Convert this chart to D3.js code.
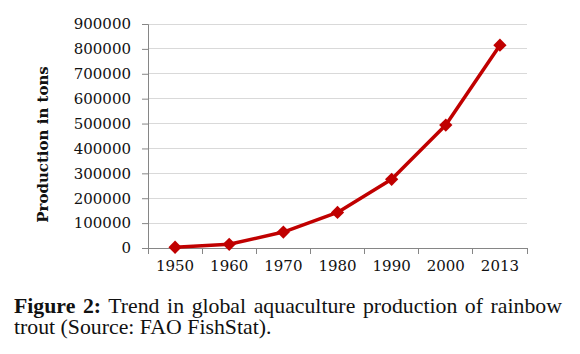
<!DOCTYPE html>
<html><head><meta charset="utf-8">
<script src="https://cdn.jsdelivr.net/npm/d3@7"></script>
<style>body{margin:0;background:#fff}svg{display:block}</style>
</head><body>
<svg id="c" width="580" height="354"></svg>
<script>
const years = ["1950","1960","1970","1980","1990","2000","2013"];
const production = [3000, 15000, 64000, 143000, 276000, 494000, 815000];
const yTicks = [0,100000,200000,300000,400000,500000,600000,700000,800000,900000];
const yTitle = "Production in tons";
const captionBold = "Figure 2:";
const captionLine1 = "Trend in global aquaculture production of rainbow";
const captionLine2 = "trout (Source: FAO FishStat).";

const svg = d3.select("#c");
const L = 148, R = 527, T = 24, B = 248;
const x = d3.scaleBand().domain(years).range([L, R]);
const y = d3.scaleLinear().domain([0, 900000]).range([B, T]);

// grid
svg.append("g").selectAll("line").data(yTicks.slice(1)).join("line")
  .attr("x1", L).attr("x2", R).attr("y1", d => y(d)).attr("y2", d => y(d))
  .attr("stroke", "#d9d9d9").attr("stroke-width", 1).attr("shape-rendering","crispEdges");

// y axis
const ya = svg.append("g").attr("transform", `translate(${L},0)`)
  .call(d3.axisLeft(y).tickValues(yTicks).tickFormat(d3.format("d")).tickSize(6).tickPadding(11));
ya.select(".domain").attr("stroke", "#868686");
ya.selectAll(".tick line").attr("stroke", "#868686");
ya.selectAll("text").attr("font-family", "DejaVu Serif").attr("font-size", 15).attr("fill", "#111");

// x axis
const xa = svg.append("g").attr("transform", `translate(0,${B})`)
  .call(d3.axisBottom(x).tickSize(0).tickPadding(12));
xa.select(".domain").attr("stroke", "#868686");
xa.selectAll("text").attr("font-family", "DejaVu Serif").attr("font-size", 15).attr("fill", "#111");
// boundary ticks
const bounds = years.map(d => x(d)).concat([R]);
svg.append("g").selectAll("line").data(bounds).join("line")
  .attr("x1", d => d).attr("x2", d => d).attr("y1", B).attr("y2", B + 6)
  .attr("stroke", "#868686").attr("shape-rendering","crispEdges");

// line
const cx = d => x(d) + x.bandwidth() / 2;
const pts = years.map((d, i) => [cx(d), y(production[i])]);
svg.append("path").attr("d", d3.line()(pts))
  .attr("fill", "none").attr("stroke", "#c00000").attr("stroke-width", 3.5).attr("stroke-linejoin", "round");
svg.append("g").selectAll("path").data(pts).join("path")
  .attr("d", d3.symbol(d3.symbolSquare, 88)())
  .attr("transform", d => `translate(${d[0]},${d[1]}) rotate(45)`)
  .attr("fill", "#c00000");

// y title
svg.append("text").attr("transform", `translate(48,144.5) rotate(-90)`)
  .attr("text-anchor", "middle").attr("font-family", "DejaVu Serif").attr("font-weight", "bold")
  .attr("font-size", 15).attr("fill", "#111").text(yTitle);

// caption
const cap = svg.append("g").attr("transform", "translate(14,0) scale(1.09,1)");
const c1 = cap.append("text").attr("x", 0).attr("y", 313)
  .attr("font-family", "Liberation Serif").attr("font-size", 20).attr("fill", "#111");
c1.append("tspan").attr("font-weight", "bold").text(captionBold);
c1.append("tspan").text(" " + captionLine1);
const w = c1.node().getComputedTextLength();
const gaps = (captionBold + " " + captionLine1).split(" ").length - 1;
c1.attr("word-spacing", Math.max(0, ((562 - 14) / 1.09 - w) / gaps));
cap.append("text").attr("x", 0).attr("y", 334)
  .attr("font-family", "Liberation Serif").attr("font-size", 20).attr("fill", "#111").text(captionLine2);
</script>
</body></html>
